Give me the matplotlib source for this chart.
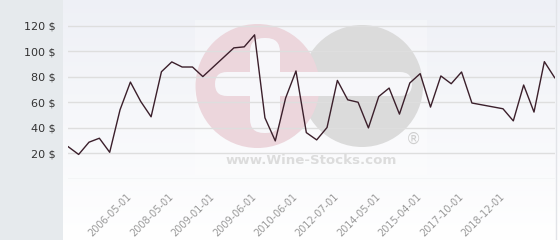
import numpy as np
import matplotlib
matplotlib.use("Agg")
import matplotlib.pyplot as plt
from matplotlib.patches import Circle, FancyBboxPatch, Rectangle

prices = [25, 19, 28.6, 31.7, 20.7, 54, 75.7, 60.5, 48.5, 83.8,
          91.5, 87.5, 87.5, 80, 87.5, 95, 102.5, 103.3, 112.7, 47.7,
          29.6, 63.2, 84.4, 36.1, 30.4, 40.1, 77, 61.8, 59.9, 39.8,
          64.4, 71, 50.6, 75, 82.3, 56.1, 80.5, 74.4, 83.6, 59.3,
          57.8, 56.3, 54.8, 45.3, 73.4, 52.2, 91.7, 79.1]
tick_idx = [6, 10, 14, 18, 22, 26, 30, 34, 38, 42]
tick_labels = ["2006-05-01", "2008-05-01", "2009-01-01", "2009-06-01",
               "2010-06-01", "2012-07-01", "2014-05-01", "2015-04-01",
               "2017-10-01", "2018-12-01"]
y_ticks = [20, 40, 60, 80, 100, 120]

W, H = 560, 240
fig = plt.figure(figsize=(5.6, 2.4), dpi=100, facecolor="#e6eaed")

# gradient plot background (right of the grey band)
bg = fig.add_axes([63 / W, 0, (W - 63) / W, 1], zorder=0)
grad = np.linspace(0, 1, 256).reshape(-1, 1)
top = np.array([0.935, 0.942, 0.965])
bot = np.array([1.0, 1.0, 1.0])
img = top + (bot - top) * grad[..., None]
bg.imshow(img, aspect="auto", extent=[0, 1, 0, 1], origin="upper")
bg.axis("off")

# watermark layer in pixel coords
wm = fig.add_axes([0, 0, 1, 1], zorder=1)
wm.set_xlim(0, W)
wm.set_ylim(H, 0)
wm.axis("off")
wm.patch.set_alpha(0)
wm.add_patch(Rectangle((195, 20), 232, 155, color="white", alpha=0.3, lw=0))
wm.add_patch(Circle((362, 86), 61, color="#dbdbdb", lw=0))
wm.add_patch(Circle((257.5, 86), 62, color="#ecd6dc", lw=0))
wm.add_patch(FancyBboxPatch((250, 38), 30, 95, boxstyle="round,pad=0,rounding_size=14",
                            color="#f7f7fa", lw=0))
wm.add_patch(FancyBboxPatch((215, 72), 197, 24, boxstyle="round,pad=0,rounding_size=12",
                            color="#f7f7fa", lw=0))
wm.text(311, 161, "www.Wine-Stocks.com", ha="center", va="center",
        fontsize=9.6, fontweight="bold", color="#dcdcdc")
wm.text(413, 139, "\u00ae", ha="center", va="center", fontsize=11, color="#cfcfcf")
wm.axvline(556, color="#e2e4e8", lw=1)

# main chart
ax = fig.add_axes([68.3 / W, 1 - 178.7 / H, 486.4 / W, 178.7 / H], zorder=2)
ax.patch.set_alpha(0)
x = np.arange(len(prices))
ax.plot(x, prices, color="#3b1f2b", lw=1.0, zorder=3)
ax.set_xlim(0, len(prices) - 1)
ax.set_ylim(0, 140)
ax.set_yticks(y_ticks)
ax.set_yticklabels([f"{v} $" for v in y_ticks])
for v in [0] + y_ticks:
    ax.axhline(v, color="#dedede", lw=1, zorder=1)
ax.set_xticks(tick_idx)
ax.set_xticklabels(tick_labels, rotation=45, ha="right", va="center",
                   rotation_mode="anchor", fontsize=7, color="#999999")
ax.tick_params(axis="x", length=0, pad=12)
ax.tick_params(axis="y", length=0, pad=9, labelsize=8, labelcolor="#333333")
for s in ax.spines.values():
    s.set_visible(False)

fig.savefig("out.png", dpi=100, facecolor=fig.get_facecolor())
